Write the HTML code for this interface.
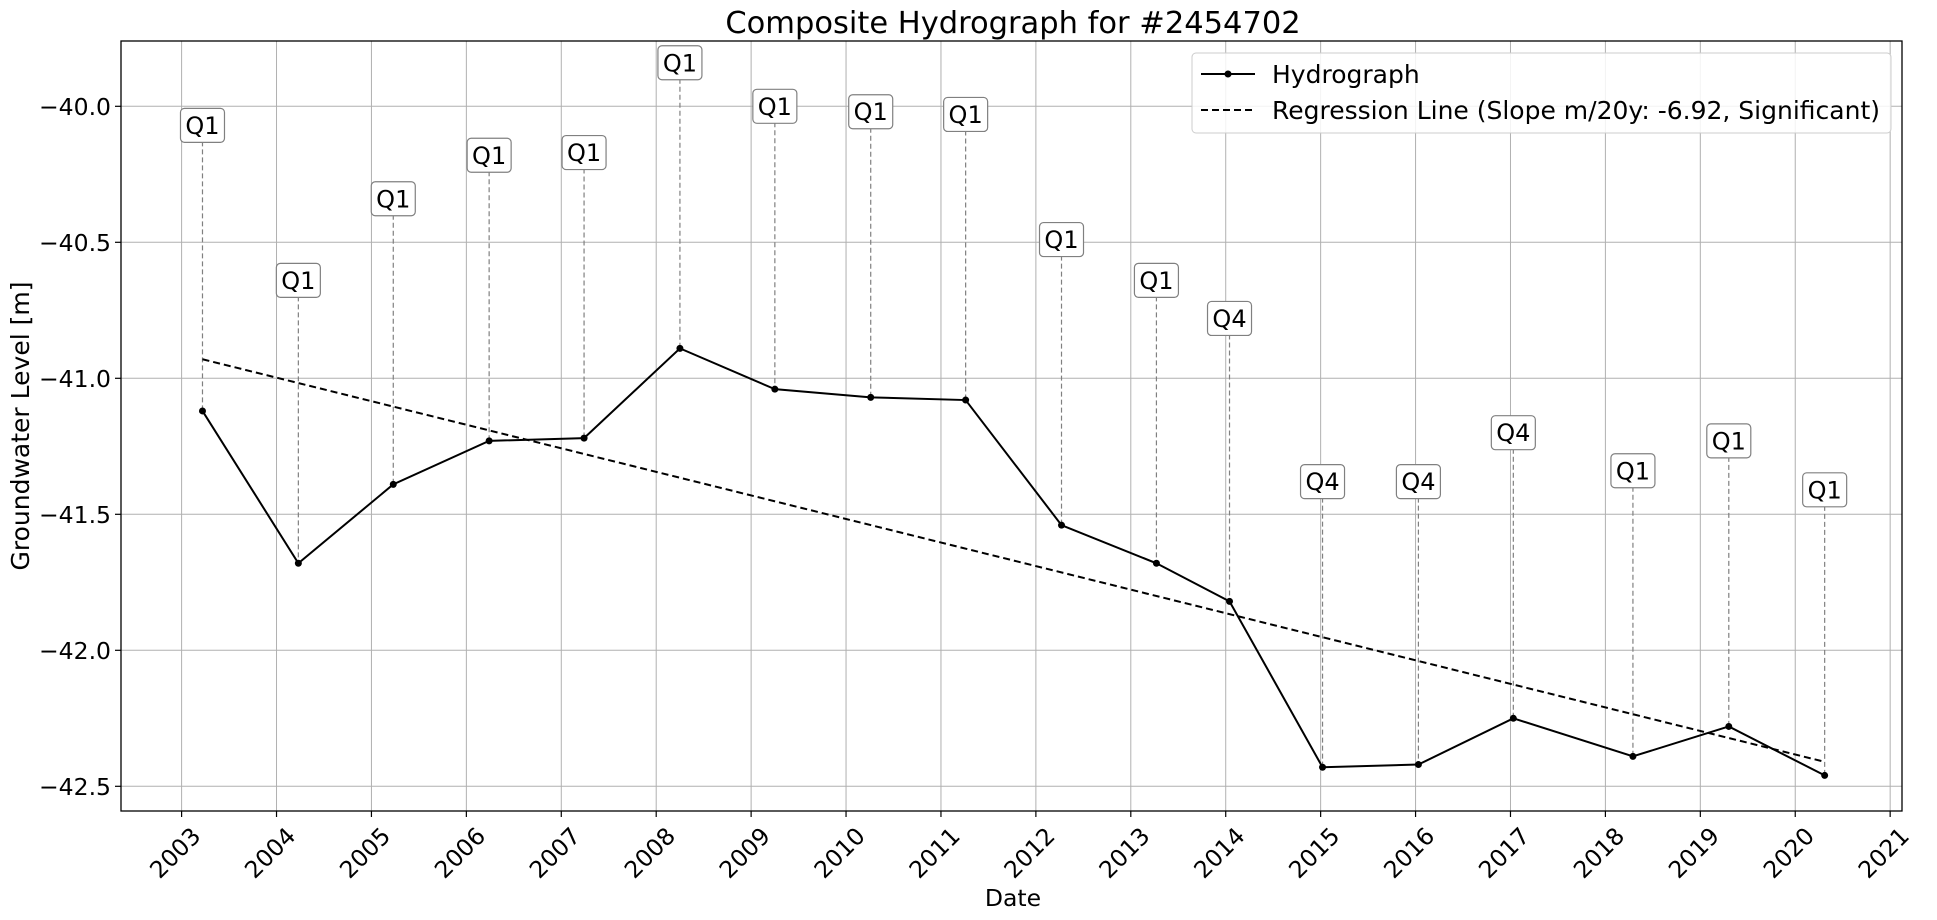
<!DOCTYPE html>
<html><head><meta charset="utf-8"><style>
html,body{margin:0;padding:0;background:#fff;}
svg{display:block;font-family:"DejaVu Sans","Liberation Sans",sans-serif;}
</style></head><body>
<svg id="chart" width="1937" height="920" viewBox="0 0 1937 920">
<g id="grid"></g>
<g id="ann"></g>
<g id="series"></g>
<rect x="121" y="41" width="1781" height="770" fill="none" stroke="#000" stroke-width="1.3"/>
<g id="axes"></g>
<text x="1013" y="33" text-anchor="middle" font-size="30.5">Composite Hydrograph for  #2454702</text>
<text x="1013" y="906" text-anchor="middle" font-size="23.5">Date</text>
<text transform="translate(29,426) rotate(-90)" text-anchor="middle" font-size="25">Groundwater Level [m]</text>
<g>
<rect x="1192" y="53" width="699" height="80" rx="4" fill="#fff" fill-opacity="0.85" stroke="#ccc"/>
<line x1="1201" y1="74" x2="1255" y2="74" stroke="#000" stroke-width="2"/>
<circle cx="1228" cy="74" r="3.5" fill="#000"/>
<text x="1272" y="83" font-size="25">Hydrograph</text>
<line x1="1201" y1="110" x2="1255" y2="110" stroke="#000" stroke-width="2" stroke-dasharray="7,4"/>
<text x="1272" y="119" font-size="25">Regression Line (Slope m/20y: -6.92, Significant)</text>
</g>
</svg>
<script>
const dates=[2003.22,2004.23,2005.23,2006.24,2007.24,2008.25,2009.25,2010.26,2011.26,2012.27,2013.27,2014.04,2015.02,2016.03,2017.03,2018.29,2019.30,2020.31];
const levels=[-41.12,-41.68,-41.39,-41.23,-41.22,-40.89,-41.04,-41.07,-41.08,-41.54,-41.68,-41.82,-42.43,-42.42,-42.25,-42.39,-42.28,-42.46];
const quarters=["Q1","Q1","Q1","Q1","Q1","Q1","Q1","Q1","Q1","Q1","Q1","Q4","Q4","Q4","Q4","Q1","Q1","Q1"];
const labelLevels=[-40.07,-40.64,-40.34,-40.18,-40.17,-39.84,-40.00,-40.02,-40.03,-40.49,-40.64,-40.78,-41.38,-41.38,-41.20,-41.34,-41.23,-41.41];
const regStart=[2003.22,-40.93];
const regEnd=[2020.31,-42.41];
const xTicks=[2003,2004,2005,2006,2007,2008,2009,2010,2011,2012,2013,2014,2015,2016,2017,2018,2019,2020,2021];
const yTicks=[-40.0,-40.5,-41.0,-41.5,-42.0,-42.5];

const NS="http://www.w3.org/2000/svg";
const L=121,R=1902,T=41,B=811;
const x=v=>181.6+(v-2003)*94.92;
const y=v=>106.3+(-40-v)*272;
function mk(tag,attrs,parent,txt){const e=document.createElementNS(NS,tag);for(const k in attrs)e.setAttribute(k,attrs[k]);if(txt!==undefined)e.textContent=txt;parent.appendChild(e);return e;}
const grid=document.getElementById('grid'),axes=document.getElementById('axes'),ann=document.getElementById('ann'),ser=document.getElementById('series');

xTicks.forEach(t=>{
  const px=x(t);
  const g=mk('line',{x1:px,y1:T,x2:px,y2:B,stroke:'#b0b0b0','stroke-width':1},grid);
  
  
  const tk=mk('line',{x1:px,y1:B,x2:px,y2:B+6,stroke:'#000','stroke-width':1.2},axes);
  
  
  const lb=mk('text',{transform:`translate(${px+8},${B+14}) rotate(-45)`,'text-anchor':'end','font-size':23.5,'dominant-baseline':'hanging'},axes,String(t));
  
  
});
yTicks.forEach(t=>{
  const py=y(t);
  const g=mk('line',{x1:L,y1:py,x2:R,y2:py,stroke:'#b0b0b0','stroke-width':1},grid);
  
  
  const tk=mk('line',{x1:L-6,y1:py,x2:L,y2:py,stroke:'#000','stroke-width':1.2},axes);
  
  
  const lb=mk('text',{x:L-10,y:py+8.5,'text-anchor':'end','font-size':23.5},axes,'\u2212'+Math.abs(t).toFixed(1));
  
  
});

dates.forEach((d,i)=>{
  const px=x(d),ly=y(labelLevels[i]);
  const ln=mk('line',{x1:px,y1:ly+16,x2:px,y2:y(levels[i]),stroke:'#808080','stroke-width':1.2,'stroke-dasharray':'5,3'},ann);
  
  
  const bx=mk('rect',{x:px-22,y:ly-17,width:44,height:34,rx:4,fill:'#fff',stroke:'#808080','stroke-width':1.2},ann);
  
  
  const tx=mk('text',{x:px,y:ly+8.5,'text-anchor':'middle','font-size':24},ann,quarters[i]);
  
  
});

const reg=mk('line',{x1:x(regStart[0]),y1:y(regStart[1]),x2:x(regEnd[0]),y2:y(regEnd[1]),stroke:'#000','stroke-width':2,'stroke-dasharray':'7,4'},ser);


const pl=mk('polyline',{points:dates.map((d,i)=>x(d)+','+y(levels[i])).join(' '),fill:'none',stroke:'#000','stroke-width':2},ser);


dates.forEach((d,i)=>{
  const c=mk('circle',{cx:x(d),cy:y(levels[i]),r:3.5,fill:'#000'},ser);
  
  
});
</script>
</body></html>
